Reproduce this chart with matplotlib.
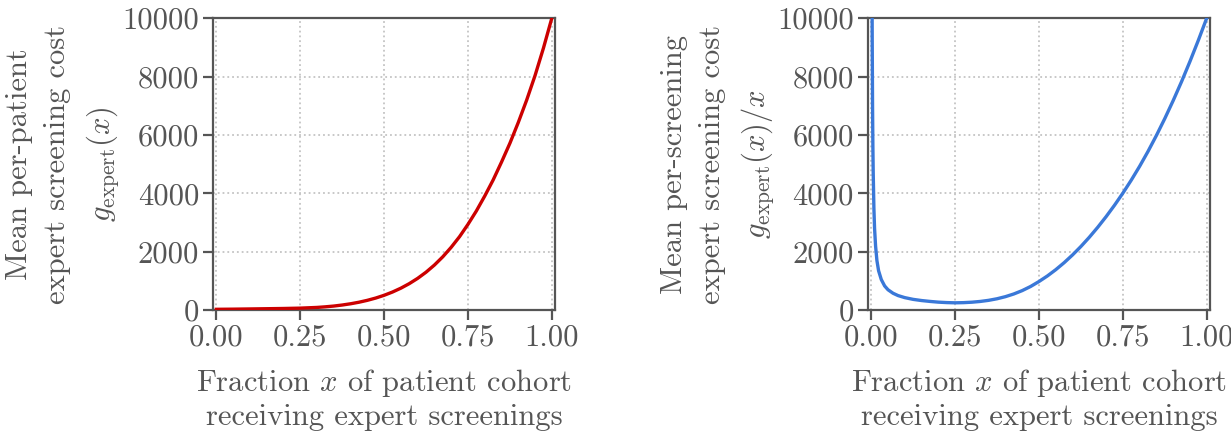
import numpy as np
import matplotlib
matplotlib.use("Agg")
import matplotlib.pyplot as plt

# Computer Modern look
plt.rcParams['font.family'] = 'serif'
plt.rcParams['font.serif'] = ['cmr10']
plt.rcParams['mathtext.fontset'] = 'cm'
plt.rcParams['axes.unicode_minus'] = False
plt.rcParams['axes.formatter.use_mathtext'] = True

# data
x_left = [0.0, 0.05, 0.1, 0.15, 0.2, 0.25, 0.3, 0.325, 0.35, 0.375, 0.4,
          0.425, 0.45, 0.475, 0.5, 0.525, 0.55, 0.575, 0.6, 0.625, 0.65,
          0.675, 0.7, 0.725, 0.75, 0.775, 0.8, 0.825, 0.85, 0.875, 0.9,
          0.925, 0.95, 0.975, 1.0]
cost_patient = [30, 35, 42, 50, 58, 70, 94, 115, 141, 176, 219,
                272, 337, 415, 509, 621, 753, 908, 1089, 1300, 1545,
                1828, 2153, 2518, 2938, 3396, 3908, 4457, 5070, 5715, 6427,
                7194, 8035, 8974, 10000]

x_right = [0.0025, 0.003, 0.004, 0.005, 0.006, 0.008, 0.010, 0.013, 0.017,
           0.022, 0.03, 0.04, 0.05, 0.065, 0.08, 0.1, 0.125, 0.15, 0.175,
           0.2, 0.225, 0.25, 0.275, 0.3, 0.325, 0.35, 0.375, 0.4, 0.425,
           0.45, 0.475, 0.5, 0.525, 0.55, 0.575, 0.6, 0.625, 0.65, 0.675,
           0.7, 0.725, 0.75, 0.775, 0.8, 0.825, 0.85, 0.875, 0.9, 0.925,
           0.95, 0.975, 1.0]
cost_screening = [11000, 9300, 7000, 5600, 4700, 3500, 2800, 2200, 1700,
                  1350, 1050, 830, 700, 580, 500, 430, 370, 330, 300,
                  275, 260, 252, 258, 273, 299, 337, 391, 463, 555,
                  670, 811, 981, 1171, 1386, 1626, 1891, 2181, 2496, 2836,
                  3201, 3591, 4006, 4451, 4926, 5436, 5981, 6561, 7176, 7826,
                  8516, 9241, 10000]

xticks = [0.0, 0.25, 0.5, 0.75, 1.0]
yticks = [0, 2000, 4000, 6000, 8000, 10000]

gray = '#555555'
xlabel = 'Fraction $x$ of patient cohort\nreceiving expert screenings'
ylabels = ['Mean per-patient\nexpert screening cost\n$g_{\\mathrm{expert}}(x)$',
           'Mean per-screening\nexpert screening cost\n$g_{\\mathrm{expert}}(x)/x$']

fig = plt.figure(figsize=(12.31, 4.32), dpi=100)
ax1 = fig.add_axes([0.173, 0.282, 0.278, 0.676])
ax2 = fig.add_axes([0.705, 0.282, 0.278, 0.676])

ax1.plot(x_left, cost_patient, color='#cc0000', lw=2.4, zorder=3)
ax2.plot(x_right, cost_screening, color='#3a78d8', lw=2.4, zorder=3)

for ax, lab in zip([ax1, ax2], ylabels):
    ax.set_xlim(-0.01, 1.01)
    ax.set_ylim(0, 10000)
    ax.set_xticks(xticks)
    ax.set_yticks(yticks)
    ax.set_xticklabels(['%.2f' % t for t in xticks])
    ax.set_yticklabels([str(t) for t in yticks])
    ax.grid(True, linestyle=':', color='#c4c4c4', lw=1.3)
    for s in ax.spines.values():
        s.set_color(gray)
        s.set_linewidth(1.6)
    ax.tick_params(direction='out', length=7, width=1.6, color=gray,
                   labelcolor=gray, labelsize=22, pad=3)
    ax.set_xlabel(xlabel, fontsize=22, color=gray, labelpad=11)
    ax.set_ylabel(lab, fontsize=22, color=gray, labelpad=1, linespacing=1.5)

plt.savefig('out.png', dpi=100)
